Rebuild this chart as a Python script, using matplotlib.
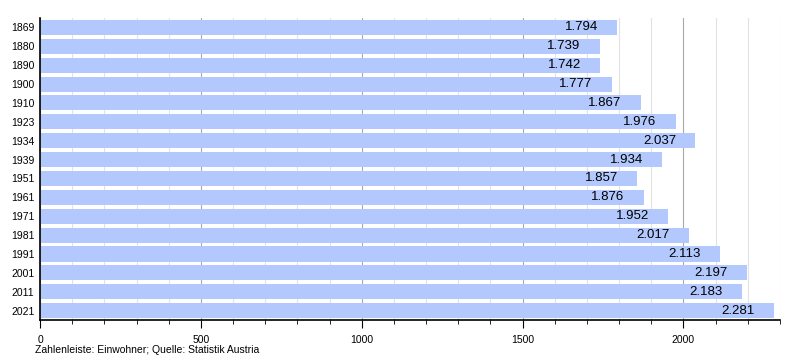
import matplotlib.pyplot as plt
from matplotlib.ticker import MultipleLocator

jahre = ['1869', '1880', '1890', '1900', '1910', '1923', '1934', '1939',
         '1951', '1961', '1971', '1981', '1991', '2001', '2011', '2021']
einwohner = [1794, 1739, 1742, 1777, 1867, 1976, 2037, 1934,
             1857, 1876, 1952, 2017, 2113, 2197, 2183, 2281]

plt.rcParams['font.family'] = ['Liberation Sans', 'DejaVu Sans']

fig = plt.figure(figsize=(8, 3.6), dpi=100)
ax = fig.add_axes([0.05, 0.111, 0.925, 0.839])

pos = list(range(len(jahre)))
ax.barh(pos, einwohner, height=0.8, color='#b3c8fd', zorder=2)

# Werte rechts in den Balken
for p, v in zip(pos, einwohner):
    txt = '{:,}'.format(v).replace(',', '.')
    ax.text(v - 60, p, txt, ha='right', va='center', fontsize=9.5, zorder=3)

ax.set_xlim(0, 2300)
ax.set_ylim(len(jahre) - 0.5, -0.5)
ax.set_yticks(pos)
ax.set_yticklabels(jahre, fontsize=7.5)

ax.xaxis.set_major_locator(MultipleLocator(500))
ax.xaxis.set_minor_locator(MultipleLocator(100))
ax.tick_params(axis='x', which='major', length=6, labelsize=7.5, pad=5)
ax.tick_params(axis='x', which='minor', length=3)
ax.tick_params(axis='y', length=0, pad=4)

ax.grid(axis='x', which='minor', color='#e2e2e2', lw=0.8, zorder=0)
ax.grid(axis='x', which='major', color='#a8a8a8', lw=0.8, zorder=0)

for s in ['top', 'right']:
    ax.spines[s].set_visible(False)
ax.spines['left'].set_linewidth(1.2)
ax.spines['bottom'].set_linewidth(1.2)

fig.text(0.044, 0.02, 'Zahlenleiste: Einwohner; Quelle: Statistik Austria', fontsize=7.5)

plt.savefig('out.png', dpi=100)
